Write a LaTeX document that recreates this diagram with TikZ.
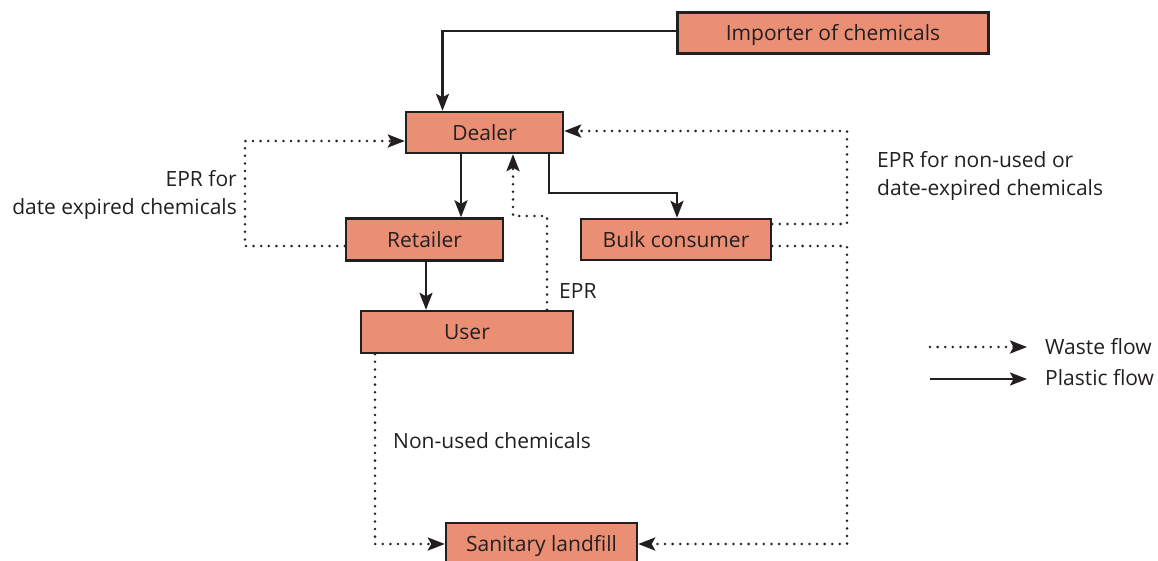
\documentclass[tikz,border=0pt]{standalone}
\usepackage{fontspec}
\setmainfont{Open Sans}
\usetikzlibrary{arrows.meta}
\definecolor{boxfill}{RGB}{234,142,116}
\definecolor{ink}{RGB}{35,31,32}
\begin{document}
\begin{tikzpicture}[x=1pt,y=-1pt,
  every node/.style={font=\fontsize{21}{28}\selectfont, text=ink},
  stage/.style={draw=ink, fill=boxfill, line width=2.4pt, inner sep=0pt,
    text height=15pt, text depth=0pt},
  tip/.style={-{Stealth[length=17pt,width=13pt,inset=3.5pt]}},
  plastic/.style={draw=ink, line width=2.4pt, tip},
  waste/.style={draw=ink, line width=2.8pt, line cap=round, dash pattern=on 0pt off 7.6pt, tip},
  lbl/.style={inner sep=0pt}]
\useasboundingbox (0,0) rectangle (1158,560);

% stages of the chain
\node[stage, minimum width=311pt, minimum height=41pt] (imp) at (833,33) {Importer of chemicals};
\node[stage, minimum width=157pt, minimum height=41pt] (dealer) at (484.5,132.5) {Dealer};
\node[stage, minimum width=157pt, minimum height=42pt] (retailer) at (424.5,239.5) {Retailer};
\node[stage, minimum width=190pt, minimum height=41pt] (bulk) at (676,239.5) {Bulk consumer};
\node[stage, minimum width=212pt, minimum height=42pt] (user) at (467,332) {User};
\node[stage, minimum width=191pt, minimum height=42pt] (landfill) at (541.5,544) {Sanitary landfill};

% plastic flow
\draw[plastic] (imp.west |- 0,31) -| (dealer.north -| 442.5,0);
\draw[plastic] (dealer.south -| 461,0) -- (retailer.north -| 461,0);
\draw[plastic] (retailer.south -| 426,0) -- (user.north -| 426,0);
\draw[plastic] (dealer.south -| 549,0) |- (677,193) -- (bulk.north -| 677,0);

% waste flow
\draw[waste] (retailer.west |- 0,246) -- (245,246) -- (245,141) -- (dealer.west |- 0,141);
\draw[waste] (user.north -| 547,0) -- (547,216) -- (513,216) -- (dealer.south -| 513,0);
\draw[waste] (bulk.east |- 0,224) -- (847,224) -- (847,131) -- (dealer.east |- 0,131);
\draw[waste] (bulk.east |- 0,246) -- (847,246) -- (847,544) -- (landfill.east);
\draw[waste] (user.south -| 375,0) -- (375,544) -- (landfill.west);

% labels
\node[lbl, anchor=east, align=right] (lleft) at (237,195) {EPR for\\date expired chemicals};
\node[lbl, anchor=west, align=left] (lright) at (877,176) {EPR for non-used or\\date-expired chemicals};
\node[lbl, anchor=west] (lepr) at (559,291) {EPR};
\node[lbl, anchor=west] (lnon) at (393,441) {Non-used chemicals};

% legend
\coordinate (wa) at (930,347);
\coordinate (wb) at (1027,347);
\coordinate (pa) at (930,379);
\coordinate (pb) at (1027,379);
\draw[waste] (wa) -- (wb);
\draw[plastic] (pa) -- (pb);
\node[lbl, anchor=west] (lw) at (1045,347) {Waste flow};
\node[lbl, anchor=west] (lp) at (1045,378) {Plastic flow};
\end{tikzpicture}
\end{document}
